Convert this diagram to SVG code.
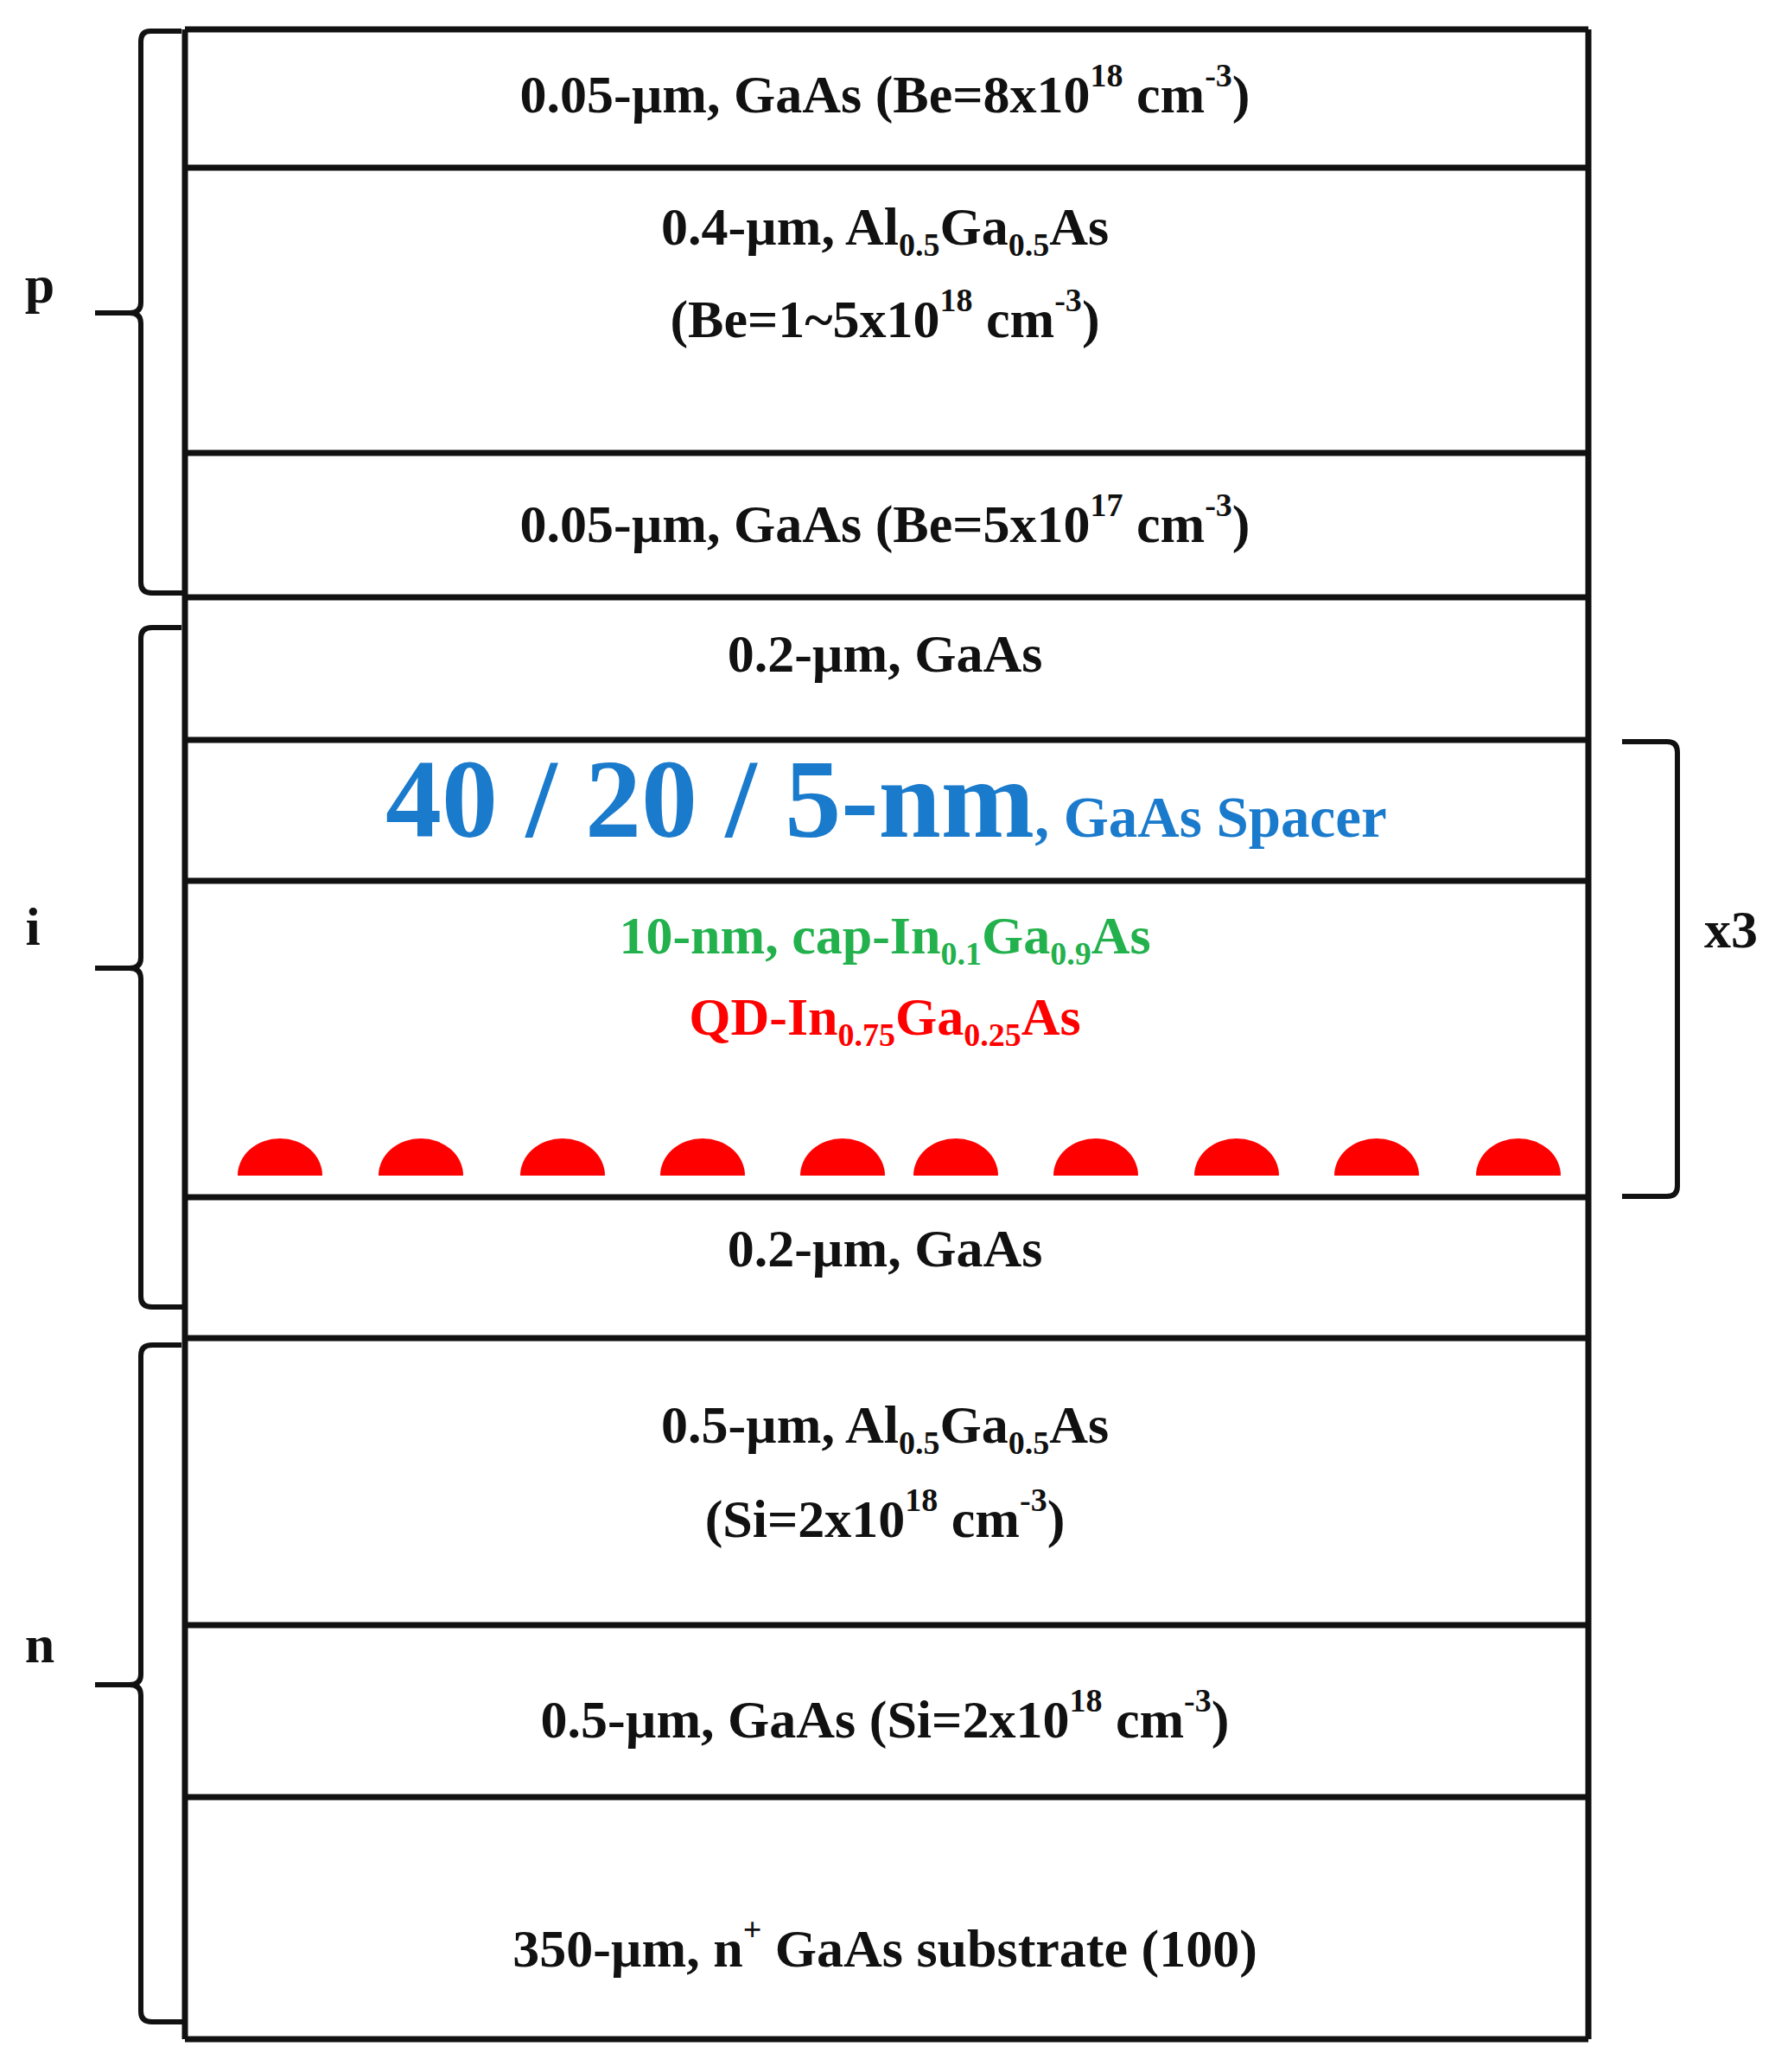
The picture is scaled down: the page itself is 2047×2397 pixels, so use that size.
<svg xmlns="http://www.w3.org/2000/svg" width="2047" height="2397" viewBox="0 0 2047 2397">
<style>
.t{font-family:"Liberation Serif","Times New Roman",serif;font-weight:bold;font-size:62px;fill:#111;text-anchor:middle}
.s{font-size:38px}
.ln{stroke:#111;stroke-width:7;fill:none}
.br{stroke:#111;stroke-width:6;fill:none}
</style>
<rect width="2047" height="2397" fill="#fff"/>
<g id="layers">
<path class="ln" d="M214 34V2359M1838 34V2359M214 2359H1838M214 194H1838M214 524H1838M214 691H1838M214 856H1838M214 1019H1838M214 1385H1838M214 1548H1838M214 1880H1838M214 2079H1838M214 34H1838" />
</g>
<g id="dots" fill="#f00">
<path d="M275 1360a49 43 0 0 1 98 0z"/>
<path d="M438 1360a49 43 0 0 1 98 0z"/>
<path d="M602 1360a49 43 0 0 1 98 0z"/>
<path d="M764 1360a49 43 0 0 1 98 0z"/>
<path d="M926 1360a49 43 0 0 1 98 0z"/>
<path d="M1057 1360a49 43 0 0 1 98 0z"/>
<path d="M1219 1360a49 43 0 0 1 98 0z"/>
<path d="M1382 1360a49 43 0 0 1 98 0z"/>
<path d="M1544 1360a49 43 0 0 1 98 0z"/>
<path d="M1708 1360a49 43 0 0 1 98 0z"/>
</g>
<g id="texts">
<text class="t" x="1024" y="130">0.05-µm, GaAs (Be=8x10<tspan class="s" dy="-30">18</tspan><tspan dy="30"> cm</tspan><tspan class="s" dy="-30">-3</tspan><tspan dy="30">)</tspan></text>
<text class="t" x="1024" y="283">0.4-µm, Al<tspan class="s" dy="13">0.5</tspan><tspan dy="-13">Ga</tspan><tspan class="s" dy="13">0.5</tspan><tspan dy="-13">As</tspan></text>
<text class="t" x="1024" y="390">(Be=1~5x10<tspan class="s" dy="-30">18</tspan><tspan dy="30"> cm</tspan><tspan class="s" dy="-30">-3</tspan><tspan dy="30">)</tspan></text>
<text class="t" x="1024" y="627">0.05-µm, GaAs (Be=5x10<tspan class="s" dy="-30">17</tspan><tspan dy="30"> cm</tspan><tspan class="s" dy="-30">-3</tspan><tspan dy="30">)</tspan></text>
<text class="t" x="1024" y="777">0.2-µm, GaAs</text>
<text class="t" x="446" y="968" style="fill:#1a7acc;font-size:130px;text-anchor:start">40 / 20 / 5-nm<tspan style="font-size:67px">, GaAs Spacer</tspan></text>
<text class="t" x="1024" y="1103" style="fill:#22b14c">10-nm, cap-In<tspan class="s" dy="13">0.1</tspan><tspan dy="-13">Ga</tspan><tspan class="s" dy="13">0.9</tspan><tspan dy="-13">As</tspan></text>
<text class="t" x="1024" y="1197" style="fill:#f00">QD-In<tspan class="s" dy="13">0.75</tspan><tspan dy="-13">Ga</tspan><tspan class="s" dy="13">0.25</tspan><tspan dy="-13">As</tspan></text>
<text class="t" x="1024" y="1465">0.2-µm, GaAs</text>
<text class="t" x="1024" y="1669">0.5-µm, Al<tspan class="s" dy="13">0.5</tspan><tspan dy="-13">Ga</tspan><tspan class="s" dy="13">0.5</tspan><tspan dy="-13">As</tspan></text>
<text class="t" x="1024" y="1778">(Si=2x10<tspan class="s" dy="-30">18</tspan><tspan dy="30"> cm</tspan><tspan class="s" dy="-30">-3</tspan><tspan dy="30">)</tspan></text>
<text class="t" x="1024" y="2010">0.5-µm, GaAs (Si=2x10<tspan class="s" dy="-30">18</tspan><tspan dy="30"> cm</tspan><tspan class="s" dy="-30">-3</tspan><tspan dy="30">)</tspan></text>
<text class="t" x="1024" y="2275">350-µm, n<tspan class="s" dy="-30">+</tspan><tspan dy="30"> GaAs substrate (100)</tspan></text>
</g>
<g id="braces">
<path class="br" d="M210 36H174Q163 36 163 48V350Q163 362 150 362H110M150 362Q163 362 163 374V674Q163 686 176 686H214"/>
<path class="br" d="M210 726H176Q163 726 163 738V1108Q163 1120 150 1120H110M150 1120Q163 1120 163 1132V1500Q163 1512 176 1512H214"/>
<path class="br" d="M210 1556H176Q163 1556 163 1568V1937Q163 1949 150 1949H110M150 1949Q163 1949 163 1961V2327Q163 2339 176 2339H214"/>
<path class="br" d="M1877 858H1929Q1941 858 1941 870V1372Q1941 1384 1929 1384H1877"/>
<text class="t" x="46" y="350">p</text>
<text class="t" x="38" y="1093">i</text>
<text class="t" x="46" y="1923">n</text>
<text class="t" x="2003" y="1096">x3</text>
</g>
</svg>
